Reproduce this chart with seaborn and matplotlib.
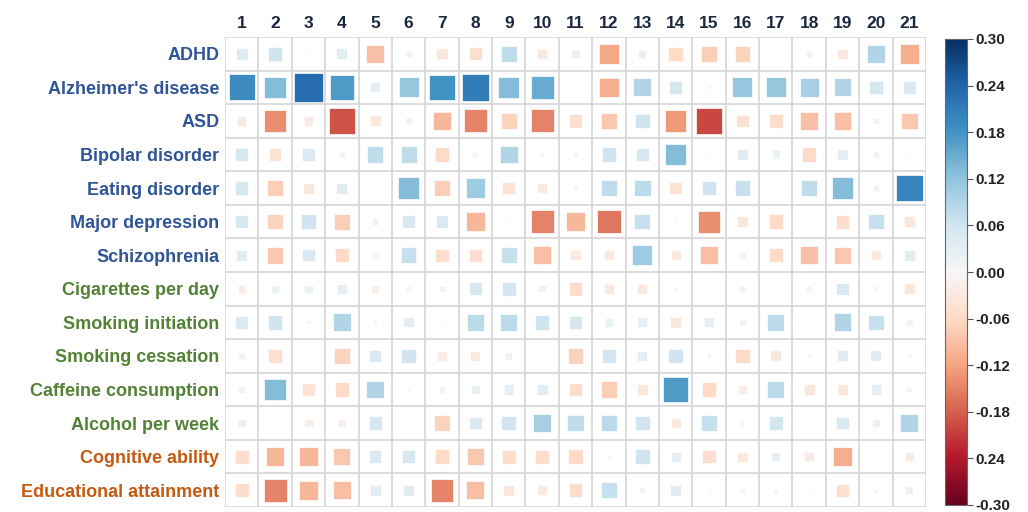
import matplotlib
matplotlib.use("Agg")
import matplotlib.pyplot as plt
import seaborn as sns
import numpy as np
import pandas as pd

traits = ["ADHD", "Alzheimer's disease", "ASD", "Bipolar disorder", "Eating disorder",
          "Major depression", "Schizophrenia", "Cigarettes per day", "Smoking initiation",
          "Smoking cessation", "Caffeine consumption", "Alcohol per week",
          "Cognitive ability", "Educational attainment"]
trait_colors = ["#2f5597"] * 7 + ["#548235"] * 5 + ["#c55a11"] * 2
columns = [str(i) for i in range(1, 22)]

adhd = [0.04, 0.06, 0.003, 0.035, -0.09, -0.012, -0.035, -0.05, 0.075, -0.03, 0.02,
        -0.115, 0.02, -0.06, -0.075, -0.07, 0.002, 0.012, -0.03, 0.09, -0.11]
alzheimers = [0.19, 0.13, 0.23, 0.17, 0.03, 0.115, 0.18, 0.21, 0.13, 0.15, 0.001,
              -0.11, 0.09, 0.05, -0.005, 0.115, 0.115, 0.10, 0.09, 0.05, 0.045]
asd = [-0.025, -0.14, -0.025, -0.19, -0.035, 0.012, -0.10, -0.15, -0.07, -0.15, -0.05,
       -0.08, 0.06, -0.13, -0.20, -0.045, -0.055, -0.09, -0.09, 0.012, -0.08]
bipolar = [0.05, -0.045, 0.045, -0.012, 0.075, 0.075, -0.06, -0.01, 0.09, -0.005, 0.01,
           0.06, 0.05, 0.13, 0.003, 0.035, 0.02, -0.06, 0.03, -0.012, 0.002]
eating = [0.05, -0.075, -0.035, 0.035, 0.002, 0.13, -0.075, 0.11, -0.045, -0.03, 0.01,
          0.075, 0.08, -0.045, 0.06, 0.07, 0.001, 0.075, 0.13, 0.012, 0.20]
depression = [0.05, -0.07, 0.06, -0.075, 0.012, 0.05, 0.045, -0.10, 0.003, -0.15, -0.10,
              -0.16, 0.07, 0.002, -0.14, -0.035, -0.06, 0.001, -0.055, 0.07, -0.035]
schizophrenia = [0.035, -0.08, 0.045, -0.06, -0.015, 0.07, -0.05, -0.05, 0.07, -0.09, -0.03,
                 -0.03, 0.11, -0.03, -0.09, -0.015, -0.06, -0.09, -0.08, -0.03, 0.035]
cigarettes = [-0.02, 0.02, 0.02, 0.03, -0.02, -0.008, 0.012, 0.05, 0.055, -0.015, -0.055,
              -0.03, -0.03, -0.002, -0.002, -0.01, 0.001, 0.01, 0.045, 0.007, -0.035]
initiation = [0.045, 0.06, 0.005, 0.09, 0.005, 0.03, 0.003, 0.08, 0.08, 0.06, 0.05,
              0.02, 0.03, -0.035, 0.03, 0.012, 0.08, 0.001, 0.09, 0.07, -0.012]
cessation = [0.012, -0.05, 0.001, -0.07, 0.045, 0.06, -0.025, -0.03, 0.015, 0.001, -0.07,
             0.055, 0.03, 0.06, -0.007, -0.06, -0.035, -0.007, 0.035, 0.035, 0.005]
caffeine = [0.012, 0.13, -0.045, -0.06, 0.09, -0.002, -0.012, 0.02, 0.03, 0.035, -0.055,
            -0.075, -0.035, 0.17, -0.06, -0.02, 0.08, -0.035, -0.035, 0.03, -0.01]
alcohol = [-0.02, 0.002, -0.02, -0.02, 0.05, 0.002, -0.07, 0.045, 0.06, 0.10, 0.075,
           0.08, 0.06, -0.03, 0.07, 0.007, 0.055, 0.002, 0.045, 0.02, 0.09]
cognitive = [-0.055, -0.10, -0.10, -0.08, 0.045, 0.05, -0.06, -0.08, -0.055, -0.055, -0.06,
             -0.003, 0.06, 0.03, -0.05, -0.03, 0.025, -0.025, -0.11, -0.002, -0.025]
education = [-0.055, -0.15, -0.10, -0.09, 0.035, 0.035, -0.15, -0.09, -0.035, -0.03, -0.055,
             0.07, -0.012, 0.035, -0.003, -0.007, -0.007, -0.002, -0.05, -0.007, 0.02]

cbar_ticks = [0.30, 0.24, 0.18, 0.12, 0.06, 0.00, -0.06, -0.12, -0.18, -0.24, -0.30]
cbar_labels = ["0.30", "0.24", "0.18", "0.12", "0.06", "0.00", "-0.06", "-0.12", "-0.18", "0.24", "-0.30"]

matrix = np.array([adhd, alzheimers, asd, bipolar, eating, depression, schizophrenia,
                   cigarettes, initiation, cessation, caffeine, alcohol, cognitive, education])
n_rows, n_cols = matrix.shape

df = pd.DataFrame(matrix, index=range(n_rows), columns=range(n_cols))
df = df.reset_index().melt(id_vars="index", var_name="col", value_name="value")
df = df.rename(columns={"index": "row"})
df["col"] = df["col"].astype(int)
df["mag"] = df["value"].abs()

sns.set_theme(style="white")
plt.rcParams["font.family"] = ["Liberation Sans", "DejaVu Sans"]

fig = plt.figure(figsize=(10.28, 5.12), dpi=100)
ax = fig.add_axes([225 / 1028, 1 - 507 / 512, 701 / 1028, 470 / 512])

# grid
ax.vlines(np.arange(-0.5, n_cols), -0.5, n_rows - 0.5, color="#d6d6d6", lw=1.2, zorder=0)
ax.hlines(np.arange(-0.5, n_rows), -0.5, n_cols - 0.5, color="#d6d6d6", lw=1.2, zorder=0)

cell_pt = 701 / n_cols * 72 / 100
sns.scatterplot(data=df, x="col", y="row", hue="value", palette="RdBu",
                hue_norm=(-0.3, 0.3), size="mag", sizes=(0, (cell_pt * 0.97) ** 2),
                size_norm=(0, 0.3), marker="s", edgecolor="white", linewidth=0.5,
                legend=False, ax=ax, zorder=2)

ax.set_xlim(-0.5, n_cols - 0.5)
ax.set_ylim(n_rows - 0.5, -0.5)
ax.set_xlabel("")
ax.set_ylabel("")
ax.xaxis.tick_top()
ax.set_xticks(range(n_cols))
ax.set_xticklabels(columns, fontsize=12.5, fontweight="bold", color="#1c2840")
ax.set_yticks(range(n_rows))
ax.set_yticklabels(traits, fontsize=13, fontweight="bold")
for lbl, c in zip(ax.get_yticklabels(), trait_colors):
    lbl.set_color(c)
ax.tick_params(length=0, pad=4)
for s in ax.spines.values():
    s.set_visible(False)

# colorbar
cax = fig.add_axes([945 / 1028, 1 - 505 / 512, 22 / 1028, 466 / 512])
sm = plt.cm.ScalarMappable(cmap="RdBu", norm=plt.Normalize(-0.3, 0.3))
cb = fig.colorbar(sm, cax=cax)
cb.set_ticks(cbar_ticks)
cb.set_ticklabels(cbar_labels)
cb.ax.tick_params(labelsize=11, length=4, width=0.8, color="#555555", pad=2)
for t in cb.ax.get_yticklabels():
    t.set_fontweight("bold")
    t.set_color("#222222")
cb.outline.set_edgecolor("#666666")
cb.outline.set_linewidth(0.8)

fig.savefig("out.png", dpi=100)
